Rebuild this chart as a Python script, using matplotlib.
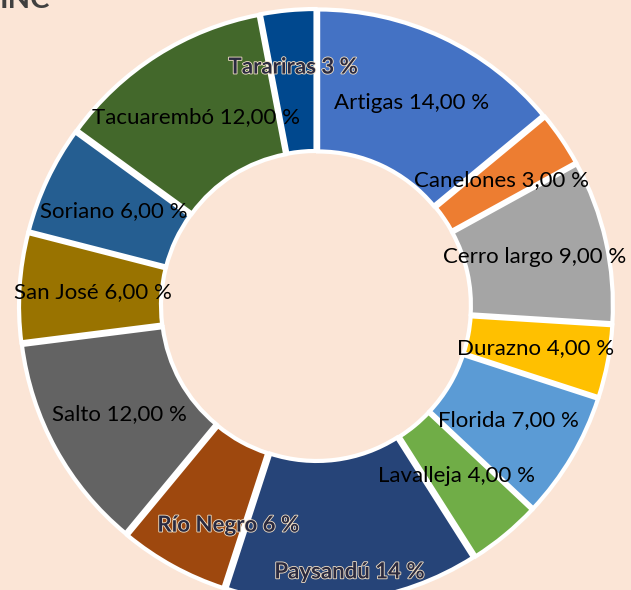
import matplotlib
matplotlib.use('Agg')
import matplotlib.pyplot as plt
import matplotlib.patheffects as pe
import numpy as np

# --- datos ---
departamentos = ['Artigas', 'Canelones', 'Cerro largo', 'Durazno', 'Florida',
                 'Lavalleja', 'Paysandú', 'Río Negro', 'Salto', 'San José',
                 'Soriano', 'Tacuarembó', 'Tarariras']
porcentajes = [14, 3, 9, 4, 7, 4, 14, 6, 12, 6, 6, 12, 3]
etiquetas = ['Artigas 14,00 %', 'Canelones 3,00 %', 'Cerro largo 9,00 %',
             'Durazno 4,00 %', 'Florida 7,00 %', 'Lavalleja 4,00 %',
             'Paysandú 14 %', 'Río Negro 6 %', 'Salto 12,00 %',
             'San José 6,00 %', 'Soriano 6,00 %', 'Tacuarembó 12,00 %',
             'Tarariras 3 %']
colores = ['#4472C4', '#ED7D31', '#A5A5A5', '#FFC000', '#5B9BD5', '#70AD47',
           '#264478', '#9E480E', '#636363', '#997300', '#255E91', '#43682B',
           '#00488E']
# etiquetas con contorno (estilo distinto en el original)
resaltadas = ['Paysandú', 'Río Negro', 'Tarariras']

FONDO = '#FBE5D6'
W, H = 631, 590
CX, CY = 316, 306          # centro del anillo en píxeles (desde arriba)
R_EXT = 292
ANCHO = 142
SEPARA = 5

fig = plt.figure(figsize=(W / 100, H / 100), dpi=100, facecolor=FONDO)
ax = fig.add_axes([0, 0, 1, 1])
ax.set_facecolor(FONDO)

wedges, _ = ax.pie(porcentajes, colors=colores, radius=R_EXT, startangle=90,
                   counterclock=False, explode=[SEPARA] * len(porcentajes),
                   wedgeprops=dict(width=ANCHO, edgecolor='white', linewidth=3))

# distancia de cada etiqueta al centro (px)
dist_etiqueta = {'Paysandú': 268, 'Río Negro': 236, 'Tarariras': 240,
                 'Lavalleja': 220}

acum = 0
for nombre, valor, texto in zip(departamentos, porcentajes, etiquetas):
    ang = np.deg2rad(90 - (acum + valor / 2) * 3.6)
    if nombre == 'Río Negro':
        ang += np.deg2rad(7)
    acum += valor
    r = dist_etiqueta.get(nombre, 224)
    x, y = r * np.cos(ang), r * np.sin(ang)
    if nombre in resaltadas:
        ax.text(x, y, texto, ha='center', va='center', fontsize=16,
                family='Lato', fontweight='bold', color='#2A2A40',
                path_effects=[pe.withStroke(linewidth=1.2, foreground='#F3E2C8')])
    else:
        ax.text(x, y, texto, ha='center', va='center', fontsize=16,
                family='Lato', color='black')

ax.set_xlim(-CX, W - CX)
ax.set_ylim(-(H - CY), CY)
ax.set_aspect('equal')
ax.axis('off')

fig.text(0.0, 1 - 8 / H, 'INC', ha='left', va='baseline', fontsize=21,
         fontweight='bold', family='Lato', color='#404040')

fig.savefig('out.png', dpi=100, facecolor=FONDO)
